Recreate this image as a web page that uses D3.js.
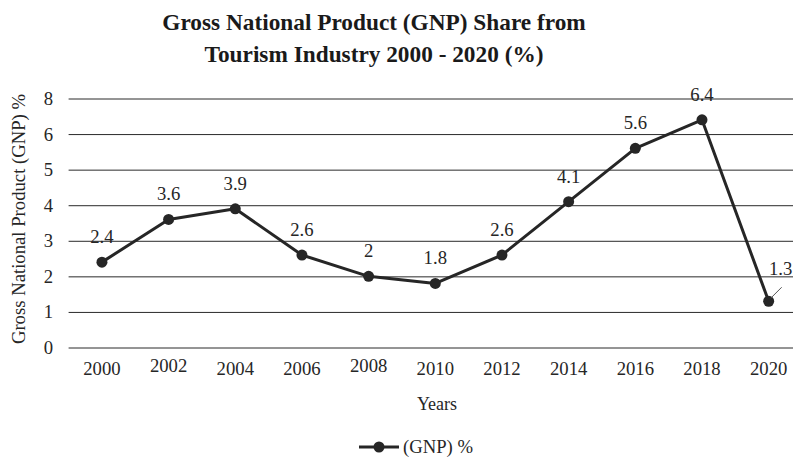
<!DOCTYPE html>
<html>
<head>
<meta charset="utf-8">
<script src="https://cdn.jsdelivr.net/npm/d3@7"></script>
<style>
  html, body { margin: 0; padding: 0; background: #fff; }
</style>
</head>
<body>
<svg id="chart" width="793" height="457"></svg>
<script>
// GNP share from tourism, every second year
const years = ["2000", "2002", "2004", "2006", "2008", "2010", "2012", "2014", "2016", "2018", "2020"];
const gnpShare = [2.4, 3.6, 3.9, 2.6, 2, 1.8, 2.6, 4.1, 5.6, 6.4, 1.3];
// axis ticks and the labels printed beside them
const yTickValues = [0, 1, 2, 3, 4, 5, 6, 7];
const yTickLabels = ["0", "1", "2", "3", "4", "5", "6", "8"];

const titleLines = ["Gross National Product (GNP) Share from", "Tourism Industry 2000 - 2020 (%)"];
const xTitle = "Years";
const yTitle = "Gross National Product (GNP) %";
const seriesName = "(GNP) %";

const ink = "#262626";
const serif = "'Liberation Serif', 'Times New Roman', serif";
const fs = 18.7;
const svg = d3.select("#chart");

const plot = { left: 68.6, right: 802, top: 98.5, bottom: 347.5 };

const x = d3.scaleBand().domain(years).range([plot.left, plot.right]);
const y = d3.scaleLinear().domain([0, 7]).range([plot.bottom, plot.top]);
const cx = d => x(d) + x.bandwidth() / 2;

// title
svg.append("text")
  .attr("x", 374).attr("y", 30)
  .attr("text-anchor", "middle")
  .style("font-family", serif)
  .attr("font-size", 23.3).attr("font-weight", "bold").attr("fill", "#1a1a1a")
  .selectAll("tspan").data(titleLines).join("tspan")
  .attr("x", 374).attr("dy", (d, i) => i === 0 ? 0 : 31.5)
  .text(d => d);

// horizontal gridlines with tick labels
const yAxis = d3.axisLeft(y)
  .tickValues(yTickValues)
  .tickSize(-(plot.right - plot.left))
  .tickPadding(15.5)
  .tickFormat((d, i) => yTickLabels[i]);

const gy = svg.append("g")
  .attr("transform", `translate(${plot.left},0)`)
  .call(yAxis);
gy.select(".domain").remove();
gy.selectAll(".tick line").attr("stroke", "#2a2a2a").attr("stroke-width", 1);
gy.selectAll(".tick text")
  .attr("font-size", fs).attr("fill", ink)
  .style("font-family", serif);

// category labels along the bottom
const raised = new Set(["2002", "2008"]);
const xAxis = d3.axisBottom(x).tickSize(0);
const gx = svg.append("g")
  .attr("transform", `translate(0,${plot.bottom})`)
  .call(xAxis);
gx.select(".domain").remove();
gx.selectAll(".tick text")
  .attr("font-size", fs).attr("fill", ink)
  .style("font-family", serif)
  .attr("dy", 0)
  .attr("y", d => raised.has(d) ? 24.5 : 27.5);

// axis titles
svg.append("text")
  .attr("x", 437).attr("y", 410)
  .attr("text-anchor", "middle")
  .style("font-family", serif)
  .attr("font-size", 18).attr("fill", ink)
  .text(xTitle);

svg.append("text")
  .attr("transform", `translate(25,219) rotate(-90)`)
  .attr("text-anchor", "middle")
  .style("font-family", serif)
  .attr("font-size", fs).attr("fill", ink)
  .text(yTitle);

// series line and markers
const pts = years.map((yr, i) => ({ yr, v: gnpShare[i] }));
const line = d3.line().x(d => cx(d.yr)).y(d => y(d.v));

svg.append("path")
  .datum(pts)
  .attr("d", line)
  .attr("fill", "none")
  .attr("stroke", ink)
  .attr("stroke-width", 3)
  .attr("stroke-linejoin", "round");

svg.append("g").selectAll("circle").data(pts).join("circle")
  .attr("cx", d => cx(d.yr)).attr("cy", d => y(d.v))
  .attr("r", 5.5).attr("fill", ink);

// value labels; the last one sits off to the side with a leader line
const last = pts.length - 1;
svg.append("g").selectAll("text").data(pts).join("text")
  .attr("x", (d, i) => i === last ? cx(d.yr) + 12 : cx(d.yr))
  .attr("y", (d, i) => i === last ? y(d.v) - 26 : y(d.v) - 19)
  .attr("text-anchor", "middle")
  .style("font-family", serif)
  .attr("font-size", fs).attr("fill", ink)
  .text(d => d.v);

const lp = pts[last];
svg.append("line")
  .attr("x1", cx(lp.yr) + 2).attr("y1", y(lp.v) - 3)
  .attr("x2", cx(lp.yr) + 13).attr("y2", y(lp.v) - 14)
  .attr("stroke", "#555").attr("stroke-width", 1);

// legend
const legend = svg.append("g").attr("transform", "translate(359,447)");
legend.append("line")
  .attr("x1", 0).attr("x2", 40).attr("y1", 0).attr("y2", 0)
  .attr("stroke", ink).attr("stroke-width", 3);
legend.append("circle").attr("cx", 20).attr("cy", 0).attr("r", 5.5).attr("fill", ink);
legend.append("text")
  .attr("x", 44).attr("y", 5.5)
  .style("font-family", serif)
  .attr("font-size", fs).attr("fill", ink)
  .text(seriesName);
</script>
</body>
</html>
